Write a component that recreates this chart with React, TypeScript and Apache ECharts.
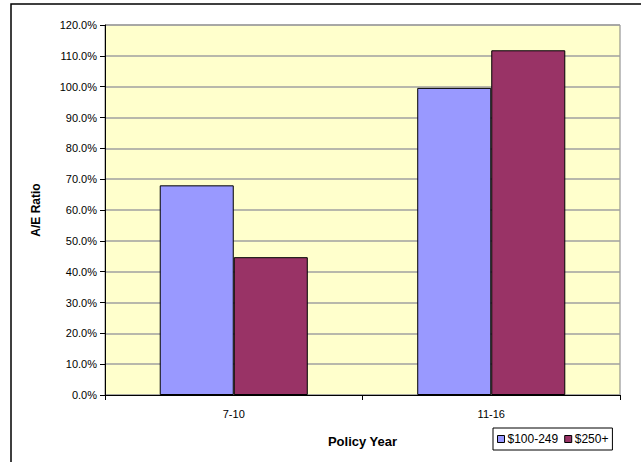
import React, { useEffect, useRef } from "react";
import * as echarts from "echarts";

const categories = ["7-10", "11-16"];
const seriesNames = ["$100-249", "$250+"];
const smallBand = [0.68, 0.996];
const largeBand = [0.447, 1.118];
const yMin = 0;
const yMax = 1.2;
const yStep = 0.1;

const FONT = "'Liberation Sans', Arial, sans-serif";

export default function App() {
  const ref = useRef<HTMLDivElement>(null);

  useEffect(() => {
    if (!ref.current) return;
    const chart = echarts.init(ref.current, null, { renderer: "svg" });
    chart.setOption({
      animation: false,
      backgroundColor: "#ffffff",
      textStyle: { fontFamily: FONT },
      graphic: [
        {
          type: "rect",
          shape: { x: 11, y: 4, width: 700, height: 500 },
          style: { fill: "none", stroke: "#000000", lineWidth: 1.5 },
          silent: true,
          z: 100,
        },
      ],
      grid: {
        left: 105,
        right: 21,
        top: 25,
        bottom: 67,
        show: true,
        backgroundColor: "#FFFFCC",
        borderColor: "#808080",
        borderWidth: 1,
      },
      legend: {
        left: 493,
        top: 428,
        orient: "horizontal",
        data: seriesNames,
        icon: "rect",
        itemWidth: 7,
        itemHeight: 7,
        itemGap: 6,
        padding: [5, 4, 5, 4],
        borderColor: "#000000",
        borderWidth: 1,
        backgroundColor: "#ffffff",
        itemStyle: { borderColor: "#000000", borderWidth: 1 },
        textStyle: { fontFamily: FONT, fontSize: 12, color: "#000000", padding: [0, 0, 0, -2] },
      },
      xAxis: {
        type: "category",
        data: categories,
        name: "Policy Year",
        nameLocation: "middle",
        nameGap: 40,
        nameTextStyle: { fontFamily: FONT, fontSize: 13, fontWeight: "bold", color: "#000000" },
        axisLine: { show: true, lineStyle: { color: "#000000", width: 1 } },
        axisTick: { show: true, alignWithLabel: false, length: 5, lineStyle: { color: "#000000" } },
        axisLabel: { fontFamily: FONT, fontSize: 11, color: "#000000", margin: 13 },
        splitLine: { show: false },
      },
      yAxis: {
        type: "value",
        min: yMin,
        max: yMax,
        interval: yStep,
        name: "A/E Ratio",
        nameLocation: "middle",
        nameGap: 63,
        nameRotate: 90,
        nameTextStyle: { fontFamily: FONT, fontSize: 12, fontWeight: "bold", color: "#000000" },
        axisLine: { show: true, lineStyle: { color: "#000000", width: 1 } },
        axisTick: { show: true, inside: false, length: 5, lineStyle: { color: "#000000" } },
        axisLabel: {
          fontFamily: FONT,
          fontSize: 11,
          color: "#000000",
          margin: 8,
          formatter: (v: number) => (v * 100).toFixed(1) + "%",
        },
        splitLine: { show: true, lineStyle: { color: "#a0a0a0", width: 1.5 } },
      },
      series: [
        {
          name: seriesNames[0],
          type: "bar",
          data: smallBand,
          barGap: "0%",
          barCategoryGap: "42.5%",
          itemStyle: { color: "#9999FF", borderColor: "#000000", borderWidth: 1 },
        },
        {
          name: seriesNames[1],
          type: "bar",
          data: largeBand,
          barGap: "0%",
          barCategoryGap: "42.5%",
          itemStyle: { color: "#993366", borderColor: "#000000", borderWidth: 1 },
        },
      ],
    });
    return () => chart.dispose();
  }, []);

  return (
    <div
      ref={ref}
      style={{ position: "fixed", left: 0, top: 0, width: 641, height: 462 }}
    />
  );
}
